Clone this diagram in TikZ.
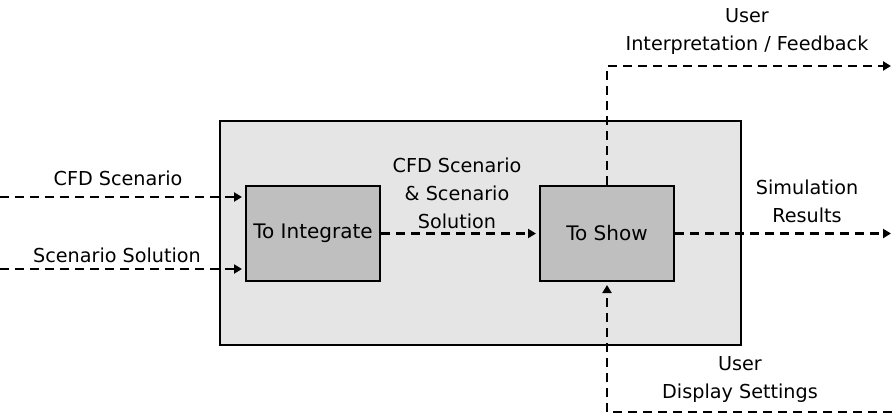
\documentclass[tikz,border=0pt]{standalone}
\usepackage{fontspec}
\setmainfont{DejaVu Sans}
\usepackage{tikz}
\usetikzlibrary{positioning,arrows.meta,calc}

\tikzset{
    flow/.style={draw=black, line width=1.3pt, dash pattern=on 4.5pt off 3pt, -{Triangle[length=4pt,width=4.5pt]}},
    activity/.style={draw=black, line width=1pt, fill=black!25, minimum width=67pt, minimum height=47.5pt, inner sep=0pt},
    context/.style={draw=black, line width=1pt, fill=black!10, minimum width=260.5pt, minimum height=112pt, inner sep=0pt},
    flowlabel/.style={align=center, font=\fontsize{9.6}{14}\selectfont, inner sep=0pt}
}

\begin{document}
\begin{tikzpicture}[x=0.5pt, y=-0.5pt]
\useasboundingbox (0,0) rectangle (892,417);

% system boundary and activities
\node[context] (system) at (480.5,233) {};
\node[activity] (integrate) at (313,233.5) {To Integrate};
\node[activity] (show) at (607,233.5) {To Show};

% free ends
\coordinate (cfdin) at (0,197);
\coordinate (solin) at (0,269);
\coordinate (resout) at (891,233.5);
\coordinate (fbout) at (891,66);
\coordinate (setin) at (892,412);

% inputs
\draw[flow, shorten >=1.5pt] (cfdin) -- (cfdin -| integrate.west);
\draw[flow, shorten >=1.5pt] (solin) -- (solin -| integrate.west);
\draw[flow, shorten >=1.5pt] (integrate.east) -- (show.west);

% outputs
\draw[flow] (show.east) -- (resout);
\draw[flow] (show.north) -- (show.north |- fbout) -- (fbout);
\draw[flow, shorten >=1.5pt] (setin) -- (setin -| show.south) -- (show.south);

% labels
\node[flowlabel] (cfdlabel) at (118,178) {CFD Scenario};
\node[flowlabel] (sollabel) at (117,255) {Scenario Solution};
\node[flowlabel] (midlabel) at (457,193) {CFD Scenario\\\& Scenario\\Solution};
\node[flowlabel] (reslabel) at (807,201) {Simulation\\Results};
\node[flowlabel] (fblabel) at (747,31) {User\\Interpretation / Feedback};
\node[flowlabel] (setlabel) at (740,379) {User\\Display Settings};
\end{tikzpicture}
\end{document}
